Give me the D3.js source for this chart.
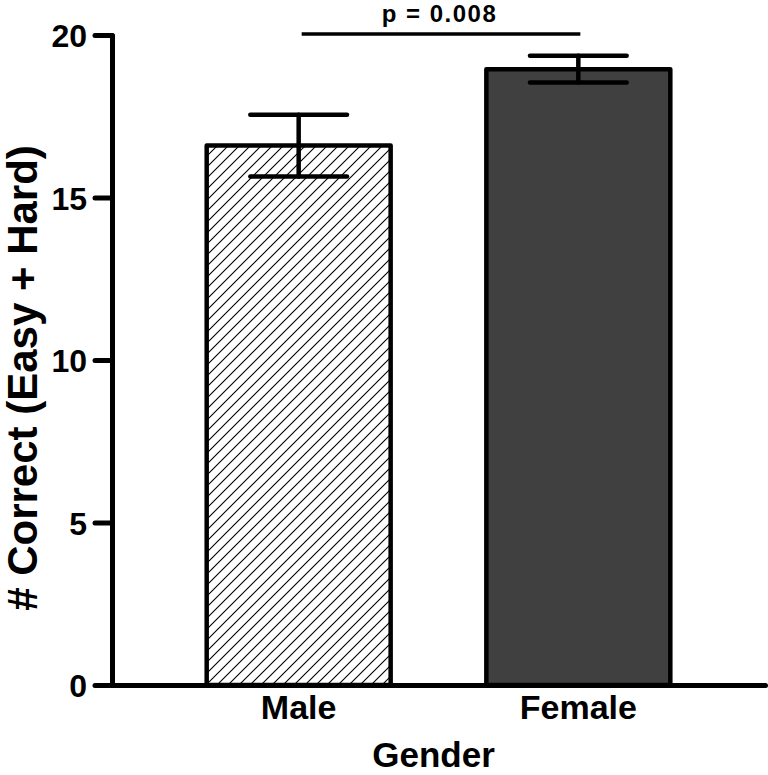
<!DOCTYPE html>
<html>
<head>
<meta charset="utf-8">
<script src="https://cdn.jsdelivr.net/npm/d3@7"></script>
<style>
  html, body { margin: 0; padding: 0; background: #fff; }
  svg { display: block; }
  text { font-family: "Liberation Sans", Arial, sans-serif; font-weight: bold; fill: #000; }
</style>
</head>
<body>
<svg id="chart" width="768" height="775"></svg>
<script>
const categories = ["Male", "Female"];
const means = [16.6, 18.95];
const sems = [0.95, 0.41];
const yTicks = [0, 5, 10, 15, 20];
const pLabel = "p = 0.008";
const xTitle = "Gender";
const yTitle = "# Correct (Easy + Hard)";

const svg = d3.select("#chart");
const axisX = 112, yTop = 35, yBottom = 685, xRight = 765;

const x = d3.scaleBand().domain(categories).range([axisX, xRight])
  .paddingInner(0.335).paddingOuter(0.335);
const y = d3.scaleLinear().domain([0, 20]).range([yBottom, yTop]);

const defs = svg.append("defs");
const pat = defs.append("pattern").attr("id", "hatch")
  .attr("patternUnits", "userSpaceOnUse").attr("width", 11).attr("height", 11);
pat.append("rect").attr("width", 11).attr("height", 11).attr("fill", "#fff");
pat.append("path")
  .attr("d", "M0,11 L11,0 M-2.75,2.75 L2.75,-2.75 M8.25,13.75 L13.75,8.25")
  .attr("stroke", "#000").attr("stroke-width", 1.1);

const fills = ["url(#hatch)", "#404040"];

// bars
svg.selectAll("rect.bar").data(categories).join("rect")
  .attr("class", "bar")
  .attr("x", d => x(d) + 1)
  .attr("width", x.bandwidth() - 2)
  .attr("y", (d, i) => y(means[i]))
  .attr("height", (d, i) => y(0) - y(means[i]))
  .attr("fill", (d, i) => fills[i])
  .attr("stroke", "#000").attr("stroke-width", 4.5)
  .attr("stroke-linejoin", "round");

// error bars
const capHalf = x.bandwidth() * 0.26;
const eb = svg.selectAll("g.err").data(categories).join("g").attr("class", "err");
eb.append("line")
  .attr("x1", d => x(d) + x.bandwidth() / 2).attr("x2", d => x(d) + x.bandwidth() / 2)
  .attr("y1", (d, i) => y(means[i] + sems[i])).attr("y2", (d, i) => y(means[i] - sems[i]));
eb.append("line")
  .attr("x1", d => x(d) + x.bandwidth() / 2 - capHalf).attr("x2", d => x(d) + x.bandwidth() / 2 + capHalf)
  .attr("y1", (d, i) => y(means[i] + sems[i])).attr("y2", (d, i) => y(means[i] + sems[i]));
eb.append("line")
  .attr("x1", d => x(d) + x.bandwidth() / 2 - capHalf).attr("x2", d => x(d) + x.bandwidth() / 2 + capHalf)
  .attr("y1", (d, i) => y(means[i] - sems[i])).attr("y2", (d, i) => y(means[i] - sems[i]));
eb.selectAll("line").attr("stroke", "#000").attr("stroke-width", 4.5).attr("stroke-linecap", "round");

// y axis
const yAxis = svg.append("g").attr("transform", `translate(${axisX},0)`)
  .call(d3.axisLeft(y).tickValues(yTicks).tickFormat(d3.format("d")).tickSize(17).tickSizeOuter(0).tickPadding(8));
yAxis.select(".domain").attr("stroke-width", 5).attr("stroke-linecap", "round");
yAxis.selectAll(".tick line").attr("stroke-width", 5).attr("stroke-linecap", "round");
yAxis.selectAll(".tick text").attr("font-size", 32).attr("font-weight", "bold")
  .attr("font-family", "Liberation Sans, Arial, sans-serif").attr("dy", "0.36em");

// x axis
const xAxis = svg.append("g").attr("transform", `translate(0,${yBottom})`)
  .call(d3.axisBottom(x).tickSize(0).tickSizeOuter(0).tickPadding(10));
xAxis.select(".domain").attr("stroke-width", 5).attr("stroke-linecap", "round");
xAxis.selectAll(".tick text").attr("font-size", 34).attr("font-weight", "bold")
  .attr("font-family", "Liberation Sans, Arial, sans-serif").attr("dy", "0.71em");

// titles
svg.append("text").attr("x", (axisX + xRight) / 2 - 5).attr("y", 767)
  .attr("text-anchor", "middle").attr("font-size", 35).text(xTitle);
svg.append("text").attr("transform", `translate(37,${(yTop + yBottom) / 2 + 18}) rotate(-90)`)
  .attr("text-anchor", "middle").attr("font-size", 42).text(yTitle);

// significance
const c0 = x(categories[0]) + x.bandwidth() / 2, c1 = x(categories[1]) + x.bandwidth() / 2;
svg.append("line").attr("x1", c0 + 3).attr("x2", c1 + 2).attr("y1", 34).attr("y2", 34)
  .attr("stroke", "#000").attr("stroke-width", 3.5);
svg.append("text").attr("x", (c0 + c1) / 2 + 1).attr("y", 22)
  .attr("text-anchor", "middle").attr("font-size", 24).attr("letter-spacing", 1.5).text(pLabel);
</script>
</body>
</html>
